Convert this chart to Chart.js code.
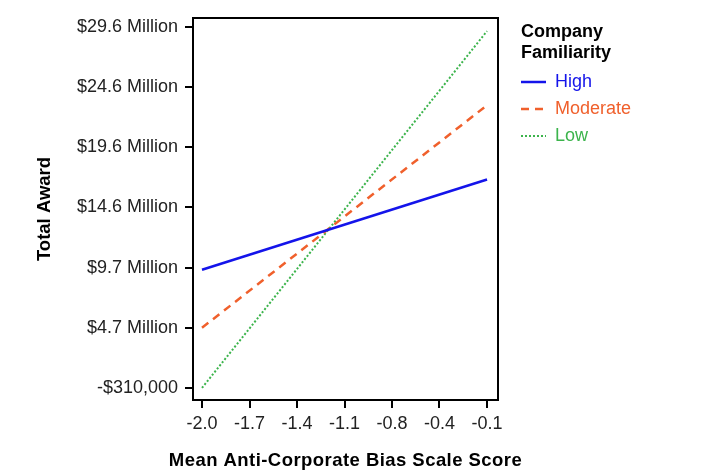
<!DOCTYPE html>
<html>
<head>
<meta charset="utf-8">
<script src="https://cdn.jsdelivr.net/npm/chart.js@4/dist/chart.umd.min.js"></script>
<style>
  html, body { margin: 0; padding: 0; background: #fff; }
  #wrap { width: 704px; height: 476px; }
</style>
</head>
<body>
<div id="wrap"><canvas id="awardChart" width="704" height="476"></canvas></div>
<script>
// Bias score at the two ends of each line
const biasScores = [-2.0, -0.1];

// Predicted total award, in millions of dollars
const highAward = [9.48, 16.95];
const moderateAward = [4.67, 23.1];
const lowAward = [-0.31, 29.24];

const seriesNames = ['High', 'Moderate', 'Low'];

// Axis ticks (evenly spaced in the original, labels as printed)
const xTickValues = [-2.0, -1.683, -1.367, -1.05, -0.733, -0.417, -0.1];
const xTickLabels = ['-2.0', '-1.7', '-1.4', '-1.1', '-0.8', '-0.4', '-0.1'];
const yTickValues = [-0.31, 4.67, 9.65, 14.63, 19.61, 24.59, 29.57];
const yTickLabels = ['-$310,000', '$4.7 Million', '$9.7 Million', '$14.6 Million',
    '$19.6 Million', '$24.6 Million', '$29.6 Million'];

const xTitle = 'Mean Anti-Corporate Bias Scale Score';

const FONT = "'Liberation Sans', Arial, sans-serif";

function toPoints(values) {
    return biasScores.map((x, i) => ({ x: x, y: values[i] }));
}

// box round the plot area, plus the (letter-spaced) x axis title
const frameBox = {
    id: 'frameBox',
    afterDraw(chart) {
        const a = chart.chartArea;
        const ctx = chart.ctx;
        ctx.save();
        ctx.strokeStyle = '#000';
        ctx.lineWidth = 2;
        ctx.strokeRect(a.left, a.top, a.right - a.left, a.bottom - a.top);

        ctx.fillStyle = '#000';
        ctx.font = 'bold 18.5px ' + FONT;
        ctx.letterSpacing = '0.45px';
        ctx.textAlign = 'center';
        ctx.textBaseline = 'middle';
        ctx.fillText(xTitle, (a.left + a.right) / 2, 461);
        ctx.restore();
    }
};

// legend on the right, drawn from the datasets
const sideLegend = {
    id: 'sideLegend',
    afterDraw(chart) {
        const ctx = chart.ctx;
        const x = 521;
        ctx.save();
        ctx.fillStyle = '#000';
        ctx.font = 'bold 18px ' + FONT;
        ctx.textBaseline = 'middle';
        ctx.fillText('Company', x, 32);
        ctx.fillText('Familiarity', x, 53);
        ctx.font = '18px ' + FONT;
        chart.data.datasets.forEach((ds, i) => {
            const y = 82 + i * 27;
            ctx.strokeStyle = ds.borderColor;
            ctx.lineWidth = ds.borderWidth;
            ctx.setLineDash(ds.borderDash || []);
            ctx.beginPath();
            ctx.moveTo(x, y);
            ctx.lineTo(x + 25, y);
            ctx.stroke();
            ctx.fillStyle = ds.borderColor;
            ctx.fillText(ds.label, x + 34, y);
        });
        ctx.restore();
    }
};

const ctx = document.getElementById('awardChart').getContext('2d');
const awardChart = new Chart(ctx, {
    type: 'line',
    data: {
        datasets: [{
            label: seriesNames[0],
            data: toPoints(highAward),
            borderColor: '#1414ea',
            borderWidth: 2.5,
            pointRadius: 0
        }, {
            label: seriesNames[1],
            data: toPoints(moderateAward),
            borderColor: '#f0602c',
            borderWidth: 2.5,
            borderDash: [8, 6],
            pointRadius: 0
        }, {
            label: seriesNames[2],
            data: toPoints(lowAward),
            borderColor: '#3cb44c',
            borderWidth: 2,
            borderDash: [2, 2],
            pointRadius: 0
        }]
    },
    options: {
        responsive: false,
        animation: false,
        layout: {
            padding: { left: 34, right: 206, top: 18, bottom: 3 }
        },
        plugins: {
            legend: { display: false },
            tooltip: { enabled: false }
        },
        scales: {
            x: {
                type: 'linear',
                min: -2.06,
                max: -0.027,
                afterBuildTicks: scale => {
                    scale.ticks = xTickValues.map(v => ({ value: v }));
                },
                afterFit: scale => { scale.height = 73; },
                border: { display: false },
                grid: {
                    drawOnChartArea: false,
                    color: '#000',
                    lineWidth: 2,
                    tickLength: 8
                },
                ticks: {
                    color: '#222',
                    padding: 5,
                    maxRotation: 0,
                    font: { family: FONT, size: 18 },
                    callback: (v, i) => xTickLabels[i]
                },
                title: { display: false }
            },
            y: {
                min: -1.31,
                max: 30.32,
                afterBuildTicks: scale => {
                    scale.ticks = yTickValues.map(v => ({ value: v }));
                },
                afterFit: scale => { scale.width = 159; },
                border: { display: false },
                grid: {
                    drawOnChartArea: false,
                    color: '#000',
                    lineWidth: 2,
                    tickLength: 8
                },
                ticks: {
                    color: '#222',
                    padding: 7,
                    font: { family: FONT, size: 18 },
                    callback: (v, i) => yTickLabels[i]
                },
                title: {
                    display: true,
                    text: 'Total Award',
                    color: '#000',
                    padding: 0,
                    font: { family: FONT, size: 18.5, weight: 'bold' }
                }
            }
        }
    },
    plugins: [frameBox, sideLegend]
});
</script>
</body>
</html>
